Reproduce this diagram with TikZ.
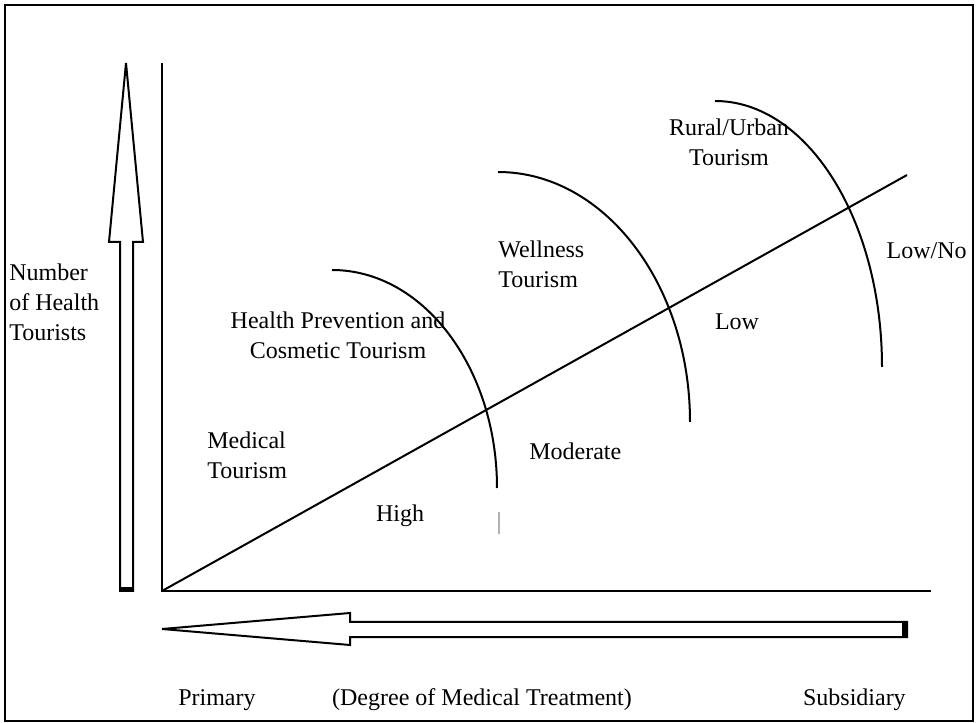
\documentclass[tikz,border=0pt]{standalone}
\usepackage{fontspec}
\setmainfont{Liberation Serif}
\begin{document}
\begin{tikzpicture}[x=0.75pt,y=-0.75pt,
  line/.style={line width=1.5pt},
  lbl/.style={inner sep=0pt,font=\fontsize{18}{22.5}\selectfont},
  fatarrow/.style={line width=1.5pt,fill=white,line join=miter}]
\useasboundingbox (0,0) rectangle (979,723);
\draw[line width=1.8pt] (5,5) rectangle (973,721);
% axes
\coordinate (O) at (162,591);
\coordinate (ytop) at (162,63);
\coordinate (xend) at (931,591);
\coordinate (dend) at (907,175);
\draw[line] (ytop) -- (O) -- (xend);
\draw[line] (O) -- (dend);
% vertical fat arrow
\draw[fatarrow] (120,591) -- (120,242) -- (109,242) -- (126,63) -- (143,242) -- (133,242) -- (133,591) -- cycle;
\fill (120,587) rectangle (133,592);
% horizontal fat arrow
\draw[fatarrow] (907,622) -- (350,622) -- (350,613) -- (162,629) -- (350,645) -- (350,637) -- (907,637) -- cycle;
\fill (902,622) rectangle (907,637);
% arcs
\coordinate (a1) at (332,270);
\coordinate (a2) at (498,172);
\coordinate (a3) at (715,101);
\draw[line] (a1) arc[start angle=90,end angle=0,x radius=123.75pt,y radius=163.5pt];
\draw[line] (a2) arc[start angle=90,end angle=0,x radius=144pt,y radius=187.5pt];
\draw[line] (a3) arc[start angle=90,end angle=0,x radius=125.25pt,y radius=199.5pt];
\coordinate (g1) at (499,512);
\coordinate (g2) at (499,534);
\draw[gray!60,line width=0.8pt] (g1) -- (g2);
% labels
\node[lbl,anchor=west,align=left] (num) at (9,302) {Number\\of Health\\Tourists};
\node[lbl,align=center] (hp) at (338,335) {Health Prevention and\\Cosmetic Tourism};
\node[lbl,anchor=west,align=left] (med) at (207,455) {Medical\\Tourism};
\node[lbl] (high) at (400,516) {High};
\node[lbl,anchor=west] (mod) at (529,451) {Moderate};
\node[lbl,anchor=west,align=left] (well) at (498,264) {Wellness\\Tourism};
\node[lbl] (low) at (737,322) {Low};
\node[lbl,align=center] (rural) at (729,142) {Rural/Urban\\Tourism};
\node[lbl,anchor=east] (lowno) at (967,251) {Low/No};
\node[lbl,anchor=west] (prim) at (178,700) {Primary};
\node[lbl] (deg) at (482,700) {(Degree of Medical Treatment)};
\node[lbl,anchor=east] (sub) at (906,700) {Subsidiary};
\end{tikzpicture}
\end{document}
